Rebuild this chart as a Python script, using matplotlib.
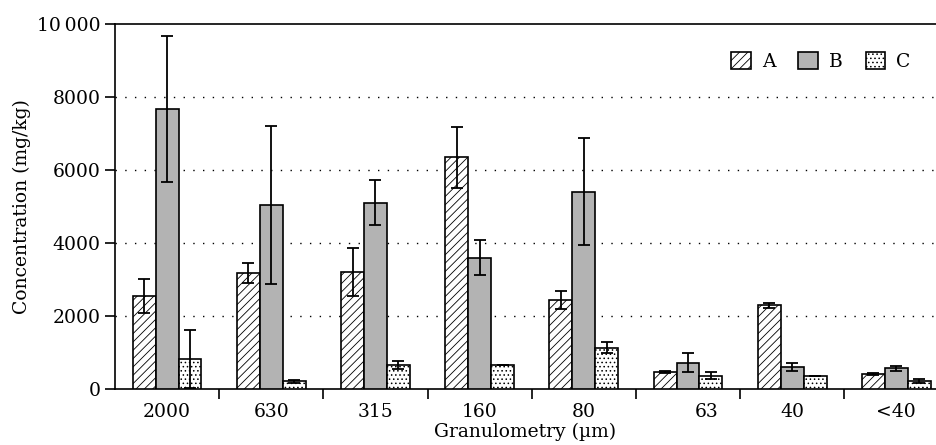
import numpy as np
import matplotlib
matplotlib.use("Agg")
import matplotlib.pyplot as plt
import matplotlib.transforms as mtransforms
from matplotlib.ticker import FixedLocator, FuncFormatter

plt.rcParams["font.family"] = ["DejaVu Serif"]
plt.rcParams["hatch.linewidth"] = 0.6

# data
categories = ["2000", "630", "315", "160", "80", "63", "40", "<40"]
series = ["A", "B", "C"]
a_vals = [2550, 3180, 3210, 6350, 2440, 465, 2290, 410]
a_err = [470, 285, 650, 830, 255, 20, 80, 20]
b_vals = [7670, 5040, 5100, 3600, 5410, 720, 610, 565]
b_err = [2000, 2160, 620, 470, 1460, 265, 105, 60]
c_vals = [830, 210, 670, 670, 1130, 365, 365, 220]
c_err = [800, 40, 110, 0, 155, 95, 0, 50]

fig = plt.figure(figsize=(9.36, 4.45), dpi=100)
ax = fig.add_axes([0.1229, 0.1258, 0.877, 0.8203])

x = np.arange(len(categories))
w = 0.22
styles = [
    dict(facecolor="white", hatch="////"),
    dict(facecolor="#b3b3b3", hatch=None),
    dict(facecolor="white", hatch="...."),
]
vals = [a_vals, b_vals, c_vals]
errs = [a_err, b_err, c_err]

for i, name in enumerate(series):
    ax.bar(x + (i - 1) * w, vals[i], width=w, edgecolor="black", linewidth=1.2,
           label=name, zorder=3, **styles[i])
    ax.errorbar(x + (i - 1) * w, vals[i], yerr=errs[i], fmt="none", ecolor="black",
                elinewidth=1.3, capsize=4.5, capthick=1.3, zorder=4)

ax.set_xlim(-0.5, 7.38)
ax.set_ylim(0, 10000)
ax.set_yticks([0, 2000, 4000, 6000, 8000, 10000])
ax.yaxis.set_major_formatter(FuncFormatter(
    lambda v, p: "10\u2009000" if v == 10000 else f"{int(v)}"))
ax.set_xticks(x)
ax.set_xticklabels(categories)
ax.xaxis.set_minor_locator(FixedLocator(np.arange(0.5, 7.5, 1.0)))
ax.tick_params(axis="x", which="major", length=0, labelsize=13.5, pad=10)
ax.tick_params(axis="x", which="minor", length=7, width=1.2, direction="out")
ax.tick_params(axis="y", length=7, width=1.2, direction="out", labelsize=13.5)

# the "63" label sits a little right of its group in the original
lbl = ax.get_xticklabels()[5]
lbl.set_transform(lbl.get_transform() + mtransforms.ScaledTranslation(0.19, 0, fig.dpi_scale_trans))

for yv in [2000, 4000, 6000, 8000]:
    ax.axhline(yv, color="black", linewidth=1.0, linestyle=(0, (1, 6)), zorder=1)

for s in ["left", "top", "bottom"]:
    ax.spines[s].set_linewidth(1.2)
ax.spines["right"].set_visible(False)

ax.set_xlabel("Granulometry (\u00b5m)", fontsize=13.5, labelpad=1)
ax.set_ylabel("Concentration (mg/kg)", fontsize=13.5, labelpad=4)

ax.legend(loc="upper right", bbox_to_anchor=(0.99, 0.97), ncol=3, frameon=False,
          fontsize=13.5, handlelength=1.05, handleheight=1.05, columnspacing=1.2,
          handletextpad=0.6)

fig.savefig("out.png", dpi=100)
